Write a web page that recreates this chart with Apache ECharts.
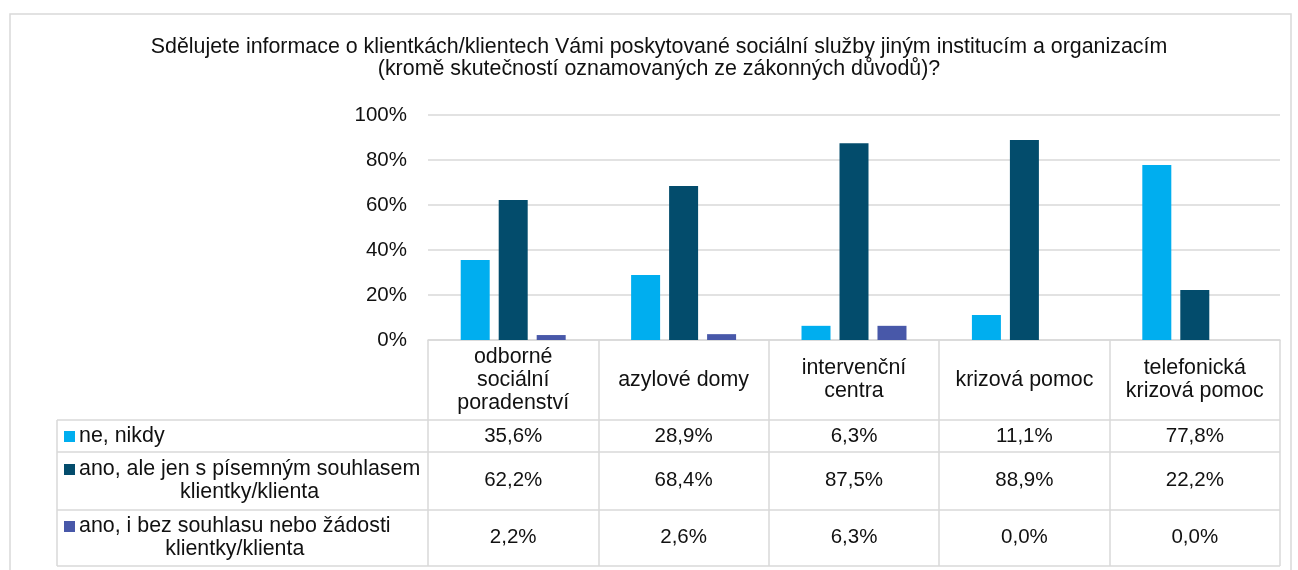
<!DOCTYPE html>
<html>
<head>
<meta charset="utf-8">
<script src="https://cdn.jsdelivr.net/npm/echarts@6/dist/echarts.min.js"></script>
<style>
  html, body { margin: 0; padding: 0; background: #fff; }
  #chart { width: 1298px; height: 570px; }
</style>
</head>
<body>
<div id="chart"></div>
<script>
var titleText = "Sdělujete informace o klientkách/klientech Vámi poskytované sociální služby jiným institucím a organizacím\n(kromě skutečností oznamovaných ze zákonných důvodů)?";
var categories = ["odborné\nsociální\nporadenství", "azylové domy", "intervenční\ncentra", "krizová pomoc", "telefonická\nkrizová pomoc"];
var seriesNames = ["ne, nikdy", "ano, ale jen s písemným souhlasem\nklientky/klienta", "ano, i bez souhlasu nebo žádosti\nklientky/klienta"];
var neNikdy = [35.6, 28.9, 6.3, 11.1, 77.8];
var sSouhlasem = [62.2, 68.4, 87.5, 88.9, 22.2];
var bezSouhlasu = [2.2, 2.6, 6.3, 0.0, 0.0];
var colors = ["#00AEEF", "#034C6C", "#4858A9"];

var FONT = '"Liberation Sans", Arial, sans-serif';
var FS = 20.5;     // cisla
var FS_T = 21.4;   // texty
var TXT = "#111";
var LINE = "#d9d9d9";

var values = [neNikdy, sSouhlasem, bezSouhlasu];

function fmt(v) {
    return v.toFixed(1).replace(".", ",") + "%";
}

var myChart = echarts.init(document.getElementById("chart"));
var option = {
    animation: false,
    grid: {
        left: 428,
        right: 18,
        top: 115,
        bottom: 230
    },
    xAxis: {
        type: "category",
        data: categories,
        axisLine: { lineStyle: { color: LINE, width: 1.5 } },
        axisTick: { show: true, length: 226, lineStyle: { color: LINE, width: 1.5 } },
        axisLabel: {
            margin: 40,
            verticalAlign: "middle",
            fontSize: FS_T,
            fontFamily: FONT,
            color: TXT,
            lineHeight: 23,
            interval: 0
        }
    },
    yAxis: {
        type: "value",
        min: 0,
        max: 100,
        interval: 20,
        axisLine: { show: false },
        axisTick: { show: false },
        splitLine: { lineStyle: { color: LINE, width: 1.5 } },
        axisLabel: {
            formatter: "{value}%",
            margin: 21,
            fontSize: FS,
            fontFamily: FONT,
            color: TXT,
            padding: [3, 0, 0, 0]
        }
    },
    series: values.map(function (d, i) {
        return {
            name: seriesNames[i],
            type: "bar",
            data: d,
            barWidth: 29,
            barGap: "31%",
            itemStyle: { color: colors[i] }
        };
    })
};
myChart.setOption(option);

// tabulka pod grafem
var ctx = document.createElement("canvas").getContext("2d");
ctx.font = FS_T + "px " + FONT;

var rowLines = [420, 452, 510, 566];
var rowCenters = [436, 480.5, 537.5];
var tableLeft = 57, tableRight = 1280;

var g = [];
g.push({
    type: "rect",
    shape: { x: 10, y: 14, width: 1281, height: 600 },
    style: { fill: "none", stroke: LINE, lineWidth: 1.5 },
    silent: true
});
g.push({
    type: "text",
    style: {
        text: titleText, x: 659, y: 58, align: "center", verticalAlign: "middle",
        fontSize: FS_T, fontFamily: FONT, fill: TXT, lineHeight: 22
    }
});
rowLines.forEach(function (y) {
    g.push({
        type: "line",
        shape: { x1: tableLeft, y1: y, x2: tableRight, y2: y },
        style: { stroke: LINE, lineWidth: 1.5 }
    });
});
g.push({
    type: "line",
    shape: { x1: tableLeft, y1: rowLines[0], x2: tableLeft, y2: rowLines[3] },
    style: { stroke: LINE, lineWidth: 1.5 }
});

seriesNames.forEach(function (name, i) {
    var lines = name.split("\n");
    var w = ctx.measureText(lines[0]).width;
    var firstY = rowCenters[i] - (lines.length - 1) * 23 / 2;
    g.push({
        type: "rect",
        shape: { x: 64, y: firstY - 5, width: 11, height: 11 },
        style: { fill: colors[i] }
    });
    g.push({
        type: "text",
        style: {
            text: name, x: 79 + w / 2, y: rowCenters[i], align: "center", verticalAlign: "middle",
            fontSize: FS_T, fontFamily: FONT, fill: TXT, lineHeight: 23
        }
    });
    values[i].forEach(function (v, j) {
        var x = myChart.convertToPixel({ xAxisIndex: 0 }, j);
        g.push({
            type: "text",
            style: {
                text: fmt(v), x: x, y: rowCenters[i], align: "center", verticalAlign: "middle",
                fontSize: FS, fontFamily: FONT, fill: TXT
            }
        });
    });
});

myChart.setOption({ graphic: g });
</script>
</body>
</html>
